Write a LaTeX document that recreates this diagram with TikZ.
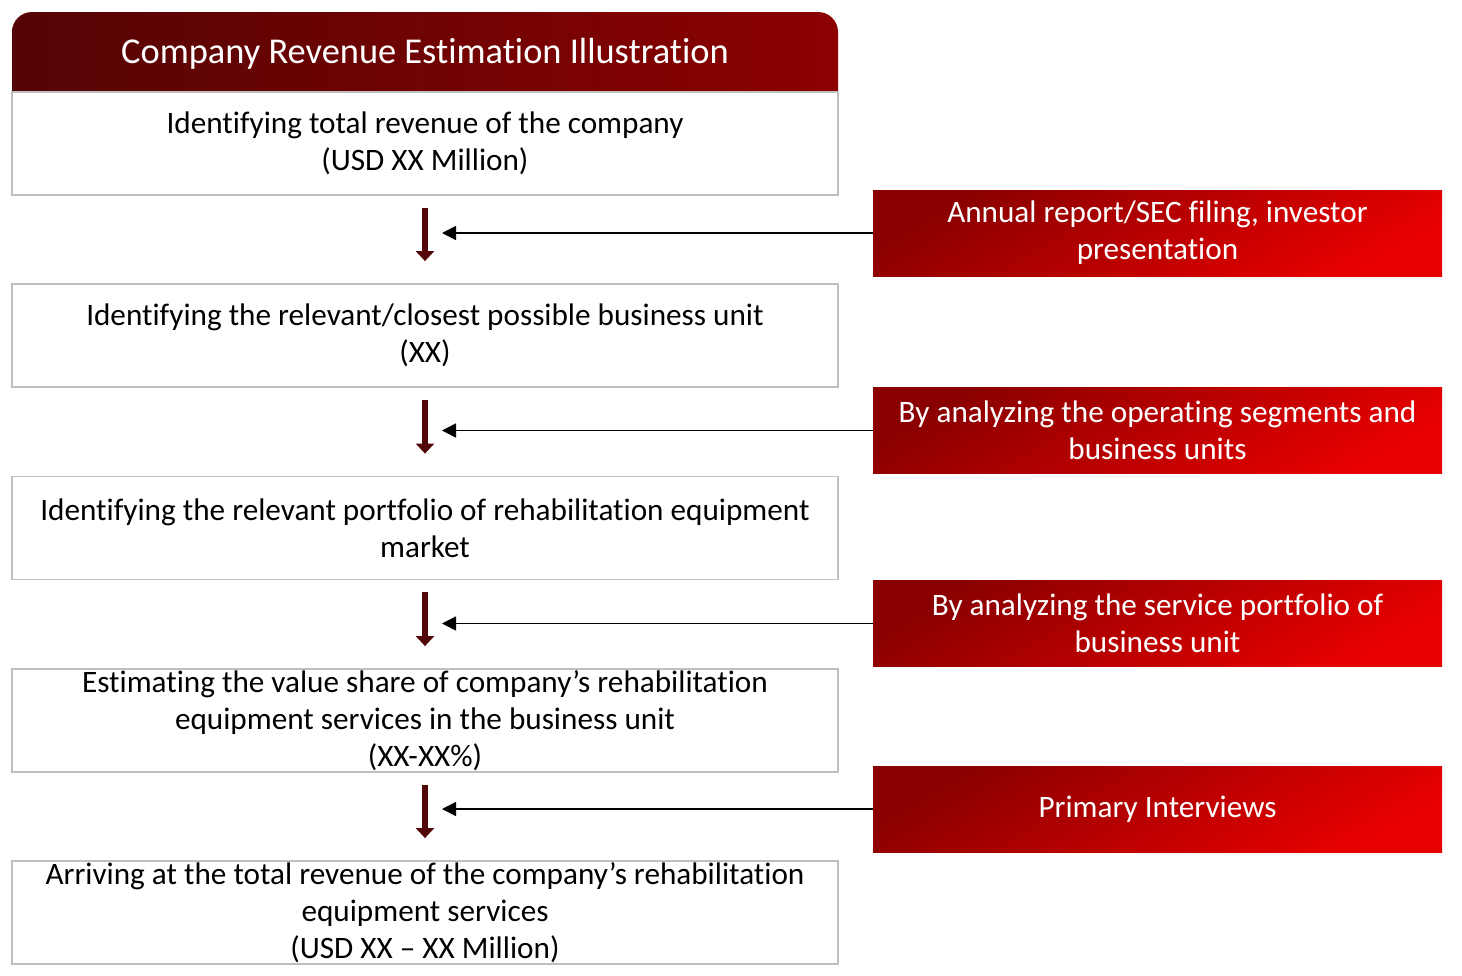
\documentclass[tikz,border=0pt]{standalone}
\usepackage{fontspec}
\setmainfont{Carlito}[Ligatures=NoCommon]
\usetikzlibrary{arrows.meta}
\definecolor{titledark}{HTML}{540505}
\definecolor{titlelight}{HTML}{8C0000}
\definecolor{srcdark}{HTML}{8A0000}
\definecolor{srclight}{HTML}{E80000}
\definecolor{flowred}{HTML}{520606}
\definecolor{boxgray}{HTML}{BFBFBF}
\begin{document}
\begin{tikzpicture}[x=0.5pt,y=-0.5pt]
    % styles
    \tikzset{
      stepbox/.style={draw=boxgray,line width=0.9pt,fill=white,minimum width=413pt,minimum height=51.5pt,inner sep=0pt,align=center,font=\fontsize{15.6}{18.6}\selectfont},
      source/.style={top color=srcdark,bottom color=srclight,shading angle=30,minimum width=284.5pt,minimum height=43pt,inner sep=0pt,align=center,text=white,font=\fontsize{15.6}{18.6}\selectfont},
      flow/.style={draw=flowred,line width=3.2pt,-{Triangle[width=9pt,length=5pt]},shorten <=6pt,shorten >=11pt},
      feed/.style={draw=black,line width=0.8pt,-{Triangle[width=7pt,length=7pt]}}
    }
    \useasboundingbox (0,0) rectangle (1462,975);

    % title bar
    \shade[left color=titledark,right color=titlelight,rounded corners=10pt] (12,12) rectangle (838,112);
    \node[text=white,font=\fontsize{18.2}{21}\selectfont] (title) at (425,54) {Company Revenue Estimation Illustration};

    % steps
    \node[stepbox] (box1) at (425,143.5) {Identifying total revenue of the company\\(USD XX Million)};
    \node[stepbox] (box2) at (425,335.5) {Identifying the relevant/closest possible business unit\\(XX)};
    \node[stepbox] (box3) at (425,528)   {Identifying the relevant portfolio of rehabilitation equipment\\market};
    \node[stepbox] (box4) at (425,720.5) {Estimating the value share of company’s rehabilitation\\equipment services in the business unit\\(XX-XX\%)};
    \node[stepbox] (box5) at (425,912.5) {Arriving at the total revenue of the company’s rehabilitation\\equipment services\\(USD XX – XX Million)};

    % sources
    \node[source] (src1) at (1157.5,233)   {Annual report/SEC filing, investor\\presentation};
    \node[source] (src2) at (1157.5,430.5) {By analyzing the operating segments and\\business units};
    \node[source] (src3) at (1157.5,623.5) {By analyzing the service portfolio of\\business unit};
    \node[source] (src4) at (1157.5,809)   {Primary Interviews};

    % arrows
    \draw[flow] (box1) -- (box2);
    \draw[flow] (box2) -- (box3);
    \draw[flow] (box3) -- (box4);
    \draw[flow] (box4) -- (box5);

    \coordinate (in1) at (442,233);
    \coordinate (in2) at (442,430.5);
    \coordinate (in3) at (442,623.5);
    \coordinate (in4) at (442,809);
    \draw[feed] (src1) -- (in1);
    \draw[feed] (src2) -- (in2);
    \draw[feed] (src3) -- (in3);
    \draw[feed] (src4) -- (in4);
\end{tikzpicture}
\end{document}
